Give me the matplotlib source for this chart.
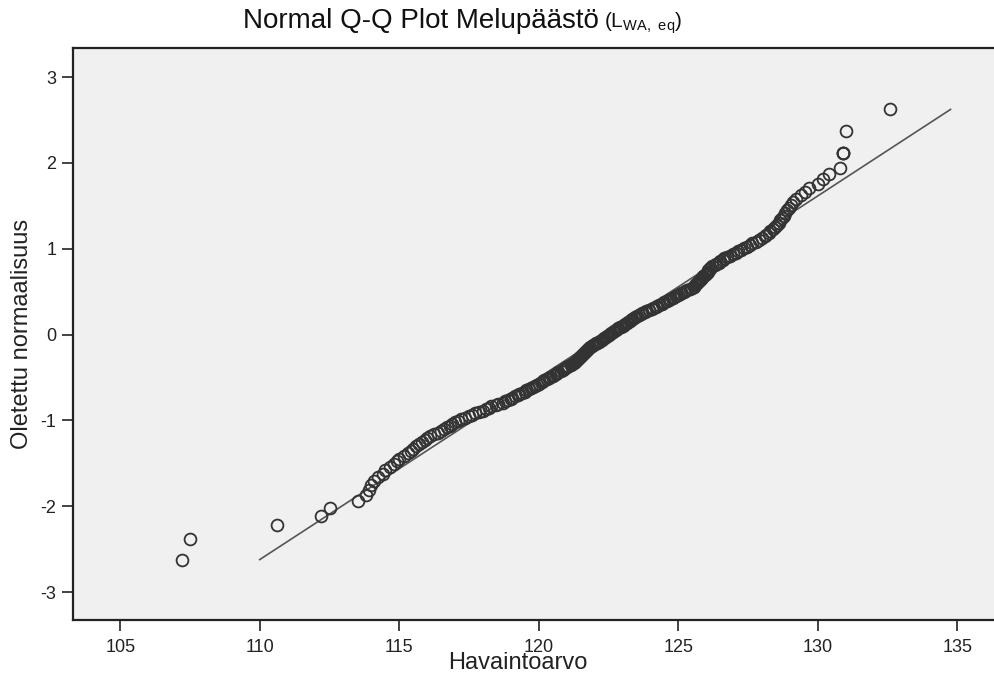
import matplotlib
matplotlib.use("Agg")
import matplotlib.pyplot as plt
import numpy as np
from statistics import NormalDist

plt.rcParams['font.family'] = ['Liberation Sans', 'DejaVu Sans']
plt.rcParams['axes.unicode_minus'] = False

havainnot = np.array([
    107.2, 107.5, 110.6, 112.2, 112.5, 113.5, 113.8, 113.9, 114.0,
    114.1, 114.25, 114.4, 114.5, 114.65, 114.8, 114.9, 115.0, 115.15, 115.3,
    115.4, 115.5, 115.6, 115.7, 115.8, 115.9, 116.0, 116.1, 116.25, 116.4, 116.5,
    116.6, 116.7, 116.8, 116.9, 117.0, 117.1, 117.2, 117.35, 117.5, 117.6,
    117.7, 117.85, 118.0, 118.1, 118.2, 118.3, 118.45, 118.55, 118.7, 118.8,
    118.9, 119.0, 119.05, 119.15, 119.25, 119.3, 119.4, 119.5, 119.55, 119.65,
    119.7, 119.8, 119.85, 119.95, 120.0,
    120.1, 120.15, 120.2, 120.3, 120.35, 120.4, 120.5, 120.55, 120.6, 120.65,
    120.7, 120.8, 120.85, 120.9, 120.95, 121.0, 121.05, 121.15, 121.2,
    121.25, 121.3, 121.33, 121.36, 121.4, 121.43, 121.47, 121.5, 121.53, 121.57,
    121.6, 121.64, 121.68, 121.72, 121.76, 121.8, 121.85,
    121.9, 121.95, 122.0, 122.05, 122.1, 122.15, 122.2, 122.25, 122.3, 122.35,
    122.4, 122.45, 122.5, 122.55,
    122.6, 122.65, 122.7, 122.75, 122.8, 122.85, 122.9, 122.95, 123.0, 123.05,
    123.1, 123.15, 123.2, 123.25, 123.3, 123.35, 123.4, 123.45, 123.5, 123.6,
    123.65, 123.7, 123.8, 123.85, 123.95,
    124.05, 124.1, 124.2, 124.25, 124.3, 124.4, 124.45, 124.5, 124.6, 124.65,
    124.7, 124.8, 124.85, 124.9, 125.0, 125.05, 125.1, 125.2, 125.25, 125.3,
    125.4, 125.5,
    125.55, 125.6, 125.63, 125.67, 125.7, 125.74, 125.78, 125.82, 125.86, 125.9,
    125.94, 125.98, 126.02, 126.05, 126.08, 126.12, 126.15,
    126.2, 126.3, 126.35, 126.45, 126.5, 126.6, 126.65, 126.75,
    126.85, 126.95, 127.05, 127.15, 127.25, 127.35, 127.45, 127.55, 127.65, 127.8, 127.9,
    128.0, 128.1, 128.15, 128.25, 128.3, 128.4, 128.45, 128.55,
    128.6, 128.65, 128.7, 128.78, 128.84, 128.9, 128.96, 129.03, 129.1,
    129.2, 129.4, 129.55, 129.7,
    130.0, 130.2, 130.4, 130.8, 130.9, 130.9, 130.9, 131.0, 132.6,
])

x_ticks = [105, 110, 115, 120, 125, 130, 135]
y_ticks = [-3, -2, -1, 0, 1, 2, 3]

# expected normal values: van der Waerden scores, ties share the mean rank
n = len(havainnot)
arvot = np.sort(havainnot)
ranks = np.empty(n)
i = 0
while i < n:
    j = i
    while j + 1 < n and arvot[j + 1] == arvot[i]:
        j += 1
    ranks[i:j + 1] = (i + j) / 2 + 1
    i = j + 1
odotettu = np.array([NormalDist().inv_cdf(r / (n + 1)) for r in ranks])

mean = arvot.mean()
sd = arvot.std(ddof=1)
z_line = np.array([odotettu.min(), odotettu.max()])
x_line = mean + sd * z_line

W, H = 995, 679
fig = plt.figure(figsize=(W / 100, H / 100), dpi=100)
ax = fig.add_axes([73 / W, 59 / H, 922 / W, 572 / H])
ax.set_facecolor('#f0f0f0')

ax.plot(x_line, z_line, color='#555555', lw=1.2, zorder=2)
ax.plot(arvot, odotettu, 'o', ms=8.5, mfc='none', mec='#333333', mew=1.3, zorder=3)

ax.set_xlim(103.3, 136.35)
ax.set_ylim(-3.326, 3.338)
ax.set_xticks(x_ticks)
ax.set_yticks(y_ticks)
ax.tick_params(length=8, width=1.2, color='#222222', labelsize=13, labelcolor='#222222')
ax.tick_params(axis='x', pad=6)
ax.tick_params(axis='y', pad=4)

for s in ['left', 'bottom', 'top']:
    ax.spines[s].set_linewidth(1.6)
    ax.spines[s].set_color('#222222')
ax.spines['right'].set_visible(False)

ax.set_xlabel('Havaintoarvo', fontsize=17, color='#222222')
ax.xaxis.set_label_coords(0.482, -0.075)
ax.xaxis.label.set_va('center')
ax.set_ylabel('Oletettu normaalisuus', fontsize=17, color='#222222')
ax.yaxis.set_label_coords(-0.055, 0.5)
ax.yaxis.label.set_va('center')

# title with subscript part drawn smaller
t1 = fig.text(243 / W, 1 - 21 / H, 'Normal Q-Q Plot Melupäästö', fontsize=20,
              va='center', ha='left', color='#111111')
fig.canvas.draw()
bb = t1.get_window_extent()
fig.text((bb.x1 + 5) / W, 1 - 23 / H, r'(L$_{\mathregular{WA,\ eq}}$)', fontsize=15,
         va='center', ha='left', color='#111111')

fig.savefig('out.png', dpi=100)
